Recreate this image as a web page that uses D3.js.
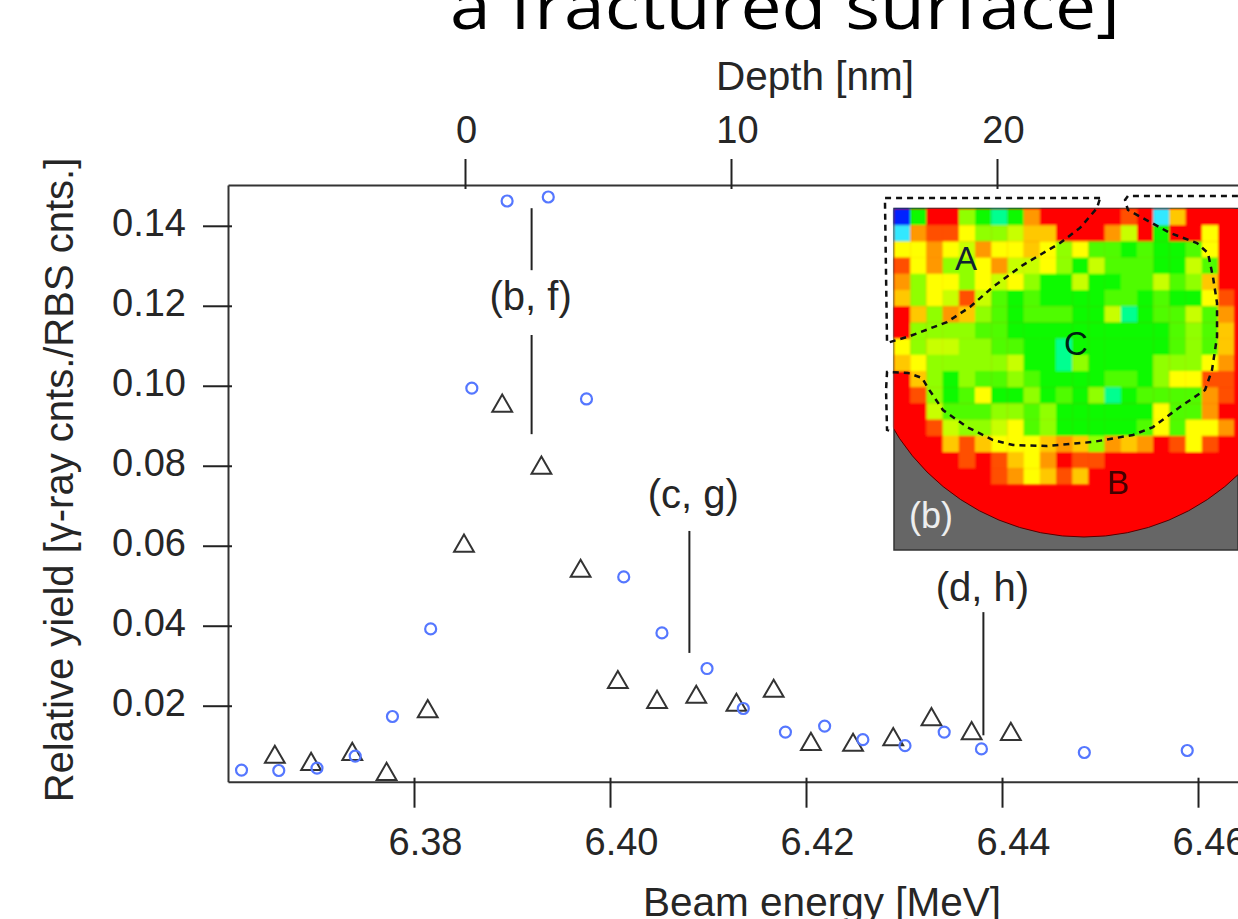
<!DOCTYPE html>
<html>
<head>
<meta charset="utf-8">
<script src="https://cdn.jsdelivr.net/npm/d3@7"></script>
<style>
    html, body { margin: 0; padding: 0; background: #fff; overflow: hidden; }
    text { font-family: "Liberation Sans", Arial, sans-serif; fill: #262626; }
</style>
</head>
<body>
<svg id="chart" width="1238" height="919"></svg>
<script>
// circles: beam energy [MeV], relative yield
const circleEnergy = [6.3624, 6.3662, 6.3701, 6.3740, 6.3778, 6.3817, 6.3859, 6.3895, 6.3937, 6.3976, 6.4014,
    6.4053, 6.4099, 6.4136, 6.4179, 6.4219, 6.4258, 6.4301, 6.4341, 6.4379, 6.4484, 6.4589];
const circleYield = [0.0039, 0.0038, 0.0044, 0.0074, 0.0173, 0.0392, 0.0994, 0.1462, 0.1472, 0.0967, 0.0522,
    0.0382, 0.0293, 0.0193, 0.0134, 0.0149, 0.0115, 0.0100, 0.0134, 0.0092, 0.0083, 0.0088];

// triangles
const triangleEnergy = [6.3658, 6.3695, 6.3737, 6.3772, 6.3814, 6.3851, 6.3890, 6.3930, 6.3970, 6.4008,
    6.4048, 6.4088, 6.4129, 6.4167, 6.4205, 6.4248, 6.4289, 6.4328, 6.4369, 6.4409];
const triangleYield = [0.0079, 0.0061, 0.0086, 0.0036, 0.0193, 0.0607, 0.0957, 0.0802, 0.0544, 0.0266,
    0.0216, 0.0229, 0.0209, 0.0244, 0.0111, 0.0109, 0.0123, 0.0173, 0.0138, 0.0136];

const energyTicks = [6.38, 6.40, 6.42, 6.44, 6.46];
const yieldTicks = [0.02, 0.04, 0.06, 0.08, 0.10, 0.12, 0.14];
const depthTicks = [0, 10, 20];

// vertical marker lines [energy, yield from, yield to]
const markerLines = [
    [6.3920, 0.1444, 0.1289],
    [6.3920, 0.1127, 0.0879],
    [6.4081, 0.0637, 0.0332],
    [6.4381, 0.0434, 0.0126]
];
const markerLabels = ["(b, f)", "(c, g)", "(d, h)"];
const markerLabelEnergy = [6.3919, 6.4085, 6.4380];
const markerLabelYield = [0.1189, 0.0694, 0.0462];

// inset map, one character per pixel of the map, base 12 (0 = blue ... b = red)
const heatRows = [
    "03bb53239bbbbbab18bbb",
    "19aa755688bbb96b3bb7b",
    "77976977875744343347b",
    "a7955796675364443364b",
    "95775767533633446458b",
    "8576a643433334434337a",
    "b85985434443362344649",
    "b55554433333333334548",
    "756655443323333334548",
    "875555563325333355579",
    "b853544543333443577aa",
    "ba534733534352344449a",
    "bb644455453333337449b",
    "bba655674533333474779",
    "bbb8a87778985989ba7ab",
    "bbbbaba879baabbbbbbbb",
    "bbbbbba978a8bbbbbbbbb"
];
const heatColors = ["#0020ff", "#30e8ff", "#00ff90", "#10fa00", "#50fc00", "#90ff00", "#c8ff00", "#ffff00",
    "#ffc800", "#ff9800", "#ff5000", "#ff0000"];

// region outlines, in map cells
const outlineA = [[12.72, -0.68], [-0.56, -0.68], [-0.43, 8.27], [0.99, 7.84], [3.27, 6.98], [4.69, 6.05],
    [6.11, 4.81], [7.96, 3.46], [10.25, 2.10], [11.48, 1.17], [12.53, -0.06], [12.72, -0.68]];
const outlineC = [[21.23, -0.80], [14.44, -0.80], [14.26, -0.56], [14.44, 0.06], [15.80, 0.80], [17.04, 1.48],
    [18.70, 2.10], [19.38, 2.72], [19.69, 4.20], [19.94, 5.80], [19.94, 7.90], [19.63, 9.94], [19.20, 11.17],
    [17.65, 12.22], [15.99, 13.46], [14.75, 13.95], [12.28, 14.38], [9.44, 14.63], [7.35, 14.57], [6.11, 14.26],
    [4.51, 13.46], [3.02, 12.41], [2.10, 11.05], [1.73, 10.43], [0.86, 10.12], [-0.43, 10.06], [-0.49, 11.17],
    [-0.43, 13.64], [-0.06, 13.77]];

const svg = d3.select("#chart");

const x = d3.scaleLinear().domain([6.36102, 6.46408]).range([228, 1238]);
const y = d3.scaleLinear().domain([0.001, 0.1502]).range([781.7, 185]);
const depth = d3.scaleLinear().domain([-8.91, 29.06]).range([228, 1238]);

// cut off slide title
svg.append("text")
    .attr("x", 450)
    .attr("y", 29)
    .attr("textLength", 670)
    .attr("lengthAdjust", "spacingAndGlyphs")
    .style("font-family", "'Open Sans'")
    .style("font-size", "64px")
    .style("fill", "#000")
    .text("a fractured surface]");

// axes
const bottomAxis = d3.axisBottom(x).tickValues(energyTicks).tickFormat(d3.format(".2f")).tickSize(26).tickSizeOuter(0);
const leftAxis = d3.axisLeft(y).tickValues(yieldTicks).tickFormat(d3.format(".2f")).tickSize(25).tickSizeOuter(0);
const topAxis = d3.axisTop(depth).tickValues(depthTicks).tickFormat(d3.format("d")).tickSize(26).tickSizeOuter(0);

const gBottom = svg.append("g").attr("transform", "translate(0,781.7)").call(bottomAxis);
const gLeft = svg.append("g").attr("transform", "translate(228,0)").call(leftAxis);
const gTop = svg.append("g").attr("transform", "translate(0,185)").call(topAxis);

[gBottom, gLeft, gTop].forEach(g => {
    g.attr("font-family", null).attr("font-size", null);
    g.selectAll(".domain").attr("stroke", "#333").attr("stroke-width", 2);
    g.selectAll(".tick line").attr("stroke", "#222").attr("stroke-width", 2);
    g.selectAll(".tick text").style("font-size", "38px");
});
gBottom.selectAll(".tick line").attr("y1", -4);
gBottom.selectAll(".tick text").attr("x", 11).attr("y", 0).attr("dy", null)
    .attr("transform", "translate(0,73)");
gLeft.selectAll(".tick line").attr("x1", 4);
gLeft.selectAll(".tick text").attr("x", -42).attr("y", -1).attr("dy", "0.29em");
gTop.selectAll(".tick line").attr("y1", 4);
gTop.selectAll(".tick text").attr("x", d => d === 0 ? 1 : 6).attr("y", -42);

// axis titles
svg.append("text").attr("x", 815).attr("y", 90).attr("text-anchor", "middle")
    .style("font-size", "40.5px").text("Depth [nm]");
svg.append("text").attr("x", 822).attr("y", 916).attr("text-anchor", "middle")
    .style("font-size", "40.5px").text("Beam energy [MeV]");
svg.append("text").attr("transform", "translate(73,480) rotate(-90)").attr("text-anchor", "middle")
    .style("font-size", "40px").text("Relative yield [γ-ray cnts./RBS cnts.]");

// inset map
const cell = 16.2;
const mapX = d3.scaleLinear().domain([0, 21]).range([894, 894 + 21 * cell]);
const mapY = d3.scaleLinear().domain([0, 21]).range([209, 209 + 21 * cell]);

const defs = svg.append("defs");
defs.append("clipPath").attr("id", "disk").append("circle")
    .attr("cx", 1084).attr("cy", 315).attr("r", 222);
defs.append("clipPath").attr("id", "frame").append("rect")
    .attr("x", 894).attr("y", 209).attr("width", 344).attr("height", 341);
defs.append("filter").attr("id", "soft").append("feGaussianBlur").attr("stdDeviation", 1);

const inset = svg.append("g");
inset.append("rect").attr("x", 894).attr("y", 208.5).attr("width", 344).attr("height", 341.5)
    .attr("fill", "#666").attr("stroke", "#333").attr("stroke-width", 1.5);

const mapCells = [];
heatRows.forEach((row, r) => {
    row.split("").forEach((ch, c) => mapCells.push({ r: r, c: c, v: parseInt(ch, 12) }));
});

const disk = inset.append("g").attr("clip-path", "url(#disk)");
disk.append("rect").attr("x", 894.5).attr("y", 209).attr("width", 343.5).attr("height", 340.5).attr("fill", "#ff0000");
disk.append("g").attr("filter", "url(#soft)")
    .selectAll("rect")
    .data(mapCells)
    .enter()
    .append("rect")
    .attr("x", d => mapX(d.c))
    .attr("y", d => mapY(d.r))
    .attr("width", cell + 0.3)
    .attr("height", cell + 0.3)
    .attr("fill", d => heatColors[d.v]);

inset.append("g").attr("clip-path", "url(#frame)")
    .append("circle").attr("cx", 1084).attr("cy", 315).attr("r", 222)
    .attr("fill", "none").attr("stroke", "#500").attr("stroke-width", 1);

const outline = d3.line().x(d => mapX(d[0])).y(d => mapY(d[1]));
[outlineA, outlineC].forEach(o => {
    inset.append("path").attr("d", outline(o)).attr("fill", "none")
        .attr("stroke", "#111").attr("stroke-width", 2.5).attr("stroke-dasharray", "6,5");
});

const mapLabels = [["A", 966, 270, "#123"], ["B", 1118, 494, "#400"], ["C", 1076, 355, "#021"], ["(b)", 931, 528, "#eee"]];
inset.selectAll(".map-label")
    .data(mapLabels)
    .enter()
    .append("text")
    .attr("class", "map-label")
    .attr("x", d => d[1])
    .attr("y", d => d[2])
    .attr("text-anchor", "middle")
    .style("font-size", d => d[0] === "(b)" ? "36px" : "33px")
    .style("fill", d => d[3])
    .text(d => d[0]);

// marker lines and labels
svg.selectAll(".marker")
    .data(markerLines)
    .enter()
    .append("line")
    .attr("class", "marker")
    .attr("x1", d => x(d[0]))
    .attr("x2", d => x(d[0]))
    .attr("y1", d => y(d[1]))
    .attr("y2", d => y(d[2]))
    .attr("stroke", "#222")
    .attr("stroke-width", 2);

svg.selectAll(".marker-label")
    .data(markerLabels)
    .enter()
    .append("text")
    .attr("class", "marker-label")
    .attr("x", (d, i) => x(markerLabelEnergy[i]))
    .attr("y", (d, i) => y(markerLabelYield[i]))
    .attr("text-anchor", "middle")
    .style("font-size", "40px")
    .text(d => d);

// data points
const triangle = d3.symbol().type(d3.symbolTriangle).size(170);
svg.selectAll(".triangle")
    .data(triangleEnergy)
    .enter()
    .append("path")
    .attr("class", "triangle")
    .attr("d", triangle)
    .attr("transform", (d, i) => `translate(${x(d)},${y(triangleYield[i]) + 3})`)
    .attr("fill", "none")
    .attr("stroke", "#333")
    .attr("stroke-width", 2);

svg.selectAll(".dot")
    .data(circleEnergy)
    .enter()
    .append("circle")
    .attr("class", "dot")
    .attr("cx", d => x(d))
    .attr("cy", (d, i) => y(circleYield[i]))
    .attr("r", 5.5)
    .attr("fill", "none")
    .attr("stroke", "#5577ff")
    .attr("stroke-width", 2.2);
</script>
</body>
</html>
